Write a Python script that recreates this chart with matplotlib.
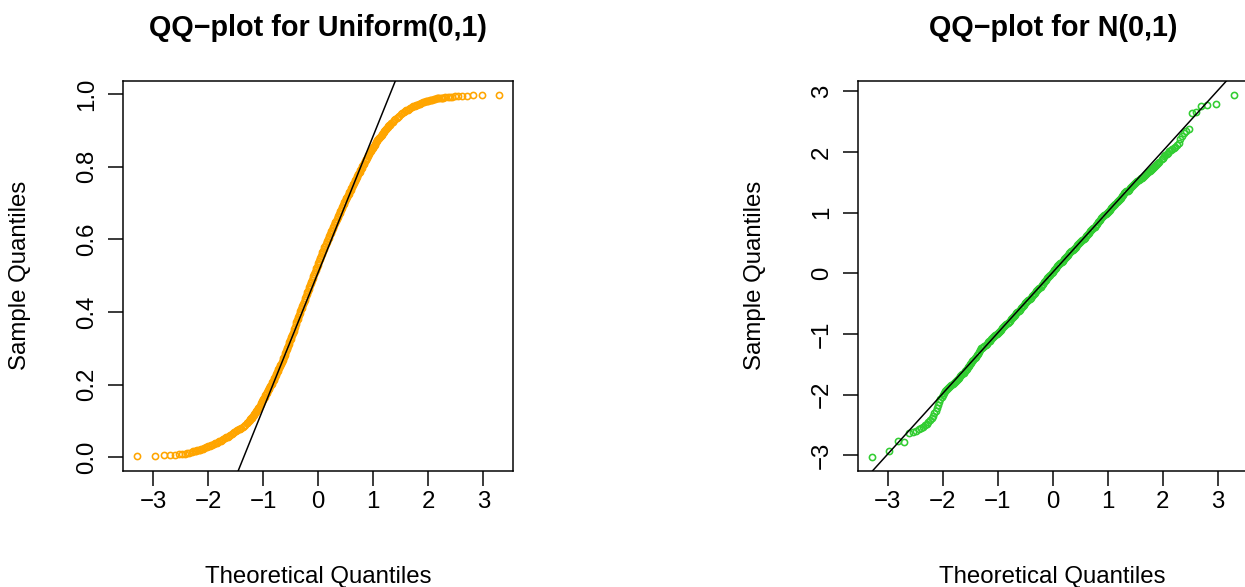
import matplotlib
matplotlib.use("Agg")
import matplotlib.pyplot as plt

plt.rcParams['font.family'] = ['Liberation Sans', 'DejaVu Sans']

# ---------------- data ----------------
unif_theoretical = [
    -3.29, -2.97, -2.81, -2.70, -2.61, -2.54, -2.48, -2.43, -2.39, -2.35,
    -2.30, -2.25, -2.20, -2.15, -2.10, -2.05, -2.00, -1.95, -1.90, -1.85,
    -1.80, -1.75, -1.70, -1.65, -1.60, -1.55, -1.50, -1.45, -1.40, -1.35, -1.30,
    -1.275, -1.25, -1.225, -1.20, -1.175, -1.15, -1.125, -1.10, -1.075, -1.05,
    -1.025, -1.00, -0.975, -0.95, -0.925, -0.90, -0.875, -0.85, -0.825, -0.80,
    -0.775, -0.75, -0.725, -0.70, -0.675, -0.65, -0.625, -0.60, -0.575, -0.55,
    -0.525, -0.50, -0.475, -0.45, -0.425, -0.40, -0.375, -0.35, -0.325, -0.30,
    -0.275, -0.25, -0.225, -0.20, -0.175, -0.15, -0.125, -0.10, -0.075, -0.05,
    -0.025, 0.00, 0.025, 0.05, 0.075, 0.10, 0.125, 0.15, 0.175, 0.20,
    0.225, 0.25, 0.275, 0.30, 0.325, 0.35, 0.375, 0.40, 0.425, 0.45,
    0.475, 0.50, 0.525, 0.55, 0.575, 0.60, 0.625, 0.65, 0.675, 0.70,
    0.725, 0.75, 0.775, 0.80, 0.825, 0.85, 0.875, 0.90, 0.925, 0.95,
    0.975, 1.00, 1.025, 1.05, 1.075, 1.10, 1.125, 1.15, 1.175, 1.20,
    1.225, 1.25, 1.275, 1.30,
    1.35, 1.40, 1.45, 1.50, 1.55, 1.60, 1.65, 1.70, 1.75, 1.80,
    1.85, 1.90, 1.95, 2.00, 2.05, 2.10, 2.15, 2.20, 2.25, 2.30,
    2.35, 2.39, 2.43, 2.48, 2.54, 2.61, 2.70, 2.81, 2.97, 3.29,
]
unif_sample = [
    0.003, 0.004, 0.005, 0.006, 0.007, 0.008, 0.009, 0.010, 0.011, 0.012,
    0.015, 0.017, 0.019, 0.021, 0.024, 0.027, 0.030, 0.033, 0.036, 0.040,
    0.044, 0.048, 0.053, 0.056, 0.061, 0.067, 0.072, 0.077, 0.081, 0.087, 0.093,
    0.097, 0.102, 0.107, 0.112, 0.117, 0.122, 0.127, 0.133, 0.139, 0.146,
    0.154, 0.161, 0.167, 0.174, 0.181, 0.188, 0.195, 0.203, 0.210, 0.218,
    0.226, 0.234, 0.242, 0.250, 0.258, 0.267, 0.277, 0.287, 0.297, 0.307,
    0.317, 0.327, 0.337, 0.349, 0.360, 0.372, 0.382, 0.392, 0.402, 0.412,
    0.423, 0.433, 0.443, 0.454, 0.464, 0.474, 0.484, 0.494, 0.505, 0.515,
    0.525, 0.535, 0.545, 0.554, 0.564, 0.573, 0.583, 0.592, 0.600, 0.609,
    0.618, 0.627, 0.635, 0.644, 0.652, 0.661, 0.669, 0.677, 0.686, 0.694,
    0.702, 0.710, 0.718, 0.726, 0.733, 0.741, 0.749, 0.756, 0.764, 0.771,
    0.779, 0.786, 0.794, 0.801, 0.808, 0.815, 0.822, 0.829, 0.836, 0.843,
    0.849, 0.855, 0.861, 0.867, 0.873, 0.878, 0.883, 0.888, 0.894, 0.898,
    0.903, 0.907, 0.912, 0.916,
    0.924, 0.931, 0.938, 0.944, 0.950, 0.955, 0.960, 0.964, 0.968, 0.971,
    0.974, 0.977, 0.980, 0.982, 0.984, 0.986, 0.988, 0.989, 0.990, 0.991,
    0.992, 0.9925, 0.993, 0.9935, 0.994, 0.9945, 0.996, 0.997, 0.998, 0.998,
]
# further readings in the dense part of the band
unif_theoretical_dense = [
    -2.275, -2.225, -2.175, -2.125, -2.075, -2.025, -1.975, -1.925, -1.875, -1.825,
    -1.775, -1.725, -1.675, -1.625, -1.575, -1.525, -1.475, -1.425, -1.375, -1.325,
    -1.2875, -1.2625, -1.2375, -1.2125, -1.1875, -1.1625, -1.1375, -1.1125, -1.0875, -1.0625,
    -1.0375, -1.0125, -0.9875, -0.9625, -0.9375, -0.9125, -0.8875, -0.8625, -0.8375, -0.8125,
    -0.7875, -0.7625, -0.7375, -0.7125, -0.6875, -0.6625, -0.6375, -0.6125, -0.5875, -0.5625,
    -0.5375, -0.5125, -0.4875, -0.4625, -0.4375, -0.4125, -0.3875, -0.3625, -0.3375, -0.3125,
    -0.2875, -0.2625, -0.2375, -0.2125, -0.1875, -0.1625, -0.1375, -0.1125, -0.0875, -0.0625,
    -0.0375, -0.0125, 0.0125, 0.0375, 0.0625, 0.0875, 0.1125, 0.1375, 0.1625, 0.1875,
    0.2125, 0.2375, 0.2625, 0.2875, 0.3125, 0.3375, 0.3625, 0.3875, 0.4125, 0.4375,
    0.4625, 0.4875, 0.5125, 0.5375, 0.5625, 0.5875, 0.6125, 0.6375, 0.6625, 0.6875,
    0.7125, 0.7375, 0.7625, 0.7875, 0.8125, 0.8375, 0.8625, 0.8875, 0.9125, 0.9375,
    0.9625, 0.9875, 1.0125, 1.0375, 1.0625, 1.0875, 1.1125, 1.1375, 1.1625, 1.1875,
    1.2125, 1.2375, 1.2625, 1.2875,
    1.325, 1.375, 1.425, 1.475, 1.525, 1.575, 1.625, 1.675, 1.725, 1.775,
    1.825, 1.875, 1.925, 1.975, 2.025, 2.075, 2.125, 2.175, 2.225, 2.275,
]
unif_sample_dense = [
    0.016, 0.018, 0.020, 0.0225, 0.0255, 0.0285, 0.0315, 0.0345, 0.038, 0.042,
    0.046, 0.0505, 0.0545, 0.0585, 0.064, 0.0695, 0.0745, 0.079, 0.084, 0.090,
    0.095, 0.0995, 0.1045, 0.1095, 0.1145, 0.1195, 0.1245, 0.130, 0.136, 0.1425,
    0.150, 0.1575, 0.164, 0.1705, 0.1775, 0.1845, 0.1915, 0.199, 0.2065, 0.214,
    0.222, 0.230, 0.238, 0.246, 0.254, 0.2625, 0.272, 0.282, 0.292, 0.302,
    0.312, 0.322, 0.332, 0.343, 0.3545, 0.366, 0.377, 0.387, 0.397, 0.407,
    0.4175, 0.428, 0.438, 0.4485, 0.459, 0.469, 0.479, 0.489, 0.4995, 0.510,
    0.520, 0.530, 0.540, 0.5495, 0.559, 0.5685, 0.578, 0.5875, 0.596, 0.6045,
    0.6135, 0.6225, 0.631, 0.6395, 0.648, 0.6565, 0.665, 0.673, 0.6815, 0.690,
    0.698, 0.706, 0.714, 0.722, 0.7295, 0.737, 0.745, 0.7525, 0.760, 0.7675,
    0.775, 0.7825, 0.790, 0.7975, 0.8045, 0.8115, 0.8185, 0.8255, 0.8325, 0.8395,
    0.846, 0.852, 0.858, 0.864, 0.870, 0.8755, 0.8805, 0.8855, 0.891, 0.896,
    0.9005, 0.905, 0.9095, 0.914,
    0.920, 0.9275, 0.9345, 0.941, 0.947, 0.9525, 0.9575, 0.962, 0.966, 0.9695,
    0.9725, 0.9755, 0.9785, 0.981, 0.983, 0.985, 0.987, 0.9885, 0.9895, 0.9905,
]
unif_line_intercept = 0.510
unif_line_slope = 0.3758

norm_theoretical = [
    -3.29, -2.97, -2.81, -2.70, -2.61, -2.54, -2.48, -2.43, -2.39, -2.35,
    -2.32, -2.29, -2.26, -2.23, -2.20, -2.17, -2.15, -2.12, -2.10, -2.08,
    -2.06, -2.04, -2.02, -2.00, -1.98, -1.96,
    -1.94, -1.90, -1.86, -1.82, -1.78, -1.74, -1.70, -1.66, -1.62, -1.58,
    -1.54, -1.50, -1.46, -1.42, -1.38, -1.34, -1.30, -1.26, -1.22, -1.18,
    -1.14, -1.10, -1.06, -1.02, -0.98, -0.94, -0.90, -0.86, -0.82, -0.78,
    -0.74, -0.70, -0.66, -0.62, -0.58, -0.54, -0.50, -0.46, -0.42, -0.38,
    -0.34, -0.30, -0.26, -0.22, -0.18, -0.14, -0.10, -0.06, -0.02, 0.02,
    0.06, 0.10, 0.14, 0.18, 0.22, 0.26, 0.30, 0.34, 0.38, 0.42,
    0.46, 0.50, 0.54, 0.58, 0.62, 0.66, 0.70, 0.74, 0.78, 0.82,
    0.86, 0.90, 0.94, 0.98, 1.02, 1.06, 1.10, 1.14, 1.18, 1.22,
    1.26, 1.30, 1.34, 1.38, 1.42, 1.46, 1.50, 1.54, 1.58, 1.62,
    1.66, 1.70, 1.74, 1.78, 1.82, 1.86, 1.90, 1.94,
    1.98, 2.00, 2.01, 2.03, 2.05, 2.08, 2.10, 2.12, 2.15, 2.17,
    2.20, 2.23, 2.26, 2.29, 2.32, 2.35, 2.39, 2.43, 2.48, 2.54,
    2.61, 2.70, 2.81, 2.97, 3.29,
]
norm_sample = [
    -3.03, -2.93, -2.77, -2.78, -2.63, -2.615, -2.60, -2.57, -2.55, -2.53,
    -2.51, -2.48, -2.45, -2.42, -2.39, -2.35, -2.31, -2.27, -2.22, -2.17,
    -2.12, -2.08, -2.04, -2.00, -1.97, -1.95,
    -1.93, -1.89, -1.86, -1.83, -1.80, -1.76, -1.72, -1.68, -1.64, -1.60,
    -1.55, -1.50, -1.45, -1.40, -1.35, -1.30, -1.24, -1.21, -1.18, -1.14,
    -1.11, -1.07, -1.04, -1.00, -0.97, -0.93, -0.89, -0.86, -0.82, -0.78,
    -0.74, -0.70, -0.66, -0.62, -0.58, -0.54, -0.49, -0.46, -0.42, -0.38,
    -0.34, -0.30, -0.26, -0.22, -0.17, -0.13, -0.08, -0.04, 0.00, 0.05,
    0.09, 0.14, 0.17, 0.21, 0.25, 0.29, 0.33, 0.36, 0.40, 0.44,
    0.48, 0.52, 0.55, 0.59, 0.63, 0.67, 0.71, 0.75, 0.79, 0.84,
    0.88, 0.93, 0.96, 1.00, 1.03, 1.07, 1.11, 1.15, 1.19, 1.23,
    1.27, 1.32, 1.35, 1.38, 1.42, 1.45, 1.49, 1.52, 1.55, 1.58,
    1.61, 1.64, 1.67, 1.70, 1.74, 1.77, 1.81, 1.84,
    1.88, 1.90, 1.91, 1.93, 1.95, 1.97, 1.99, 2.01, 2.03, 2.05,
    2.07, 2.09, 2.11, 2.15, 2.22, 2.27, 2.31, 2.35, 2.38, 2.65,
    2.66, 2.76, 2.78, 2.79, 2.94,
]
norm_theoretical_dense = [
    -1.92, -1.88, -1.84, -1.80, -1.76, -1.72, -1.68, -1.64, -1.60, -1.56,
    -1.52, -1.48, -1.44, -1.40, -1.36, -1.32, -1.28, -1.24, -1.20, -1.16,
    -1.12, -1.08, -1.04, -1.00, -0.96, -0.92, -0.88, -0.84, -0.80, -0.76,
    -0.72, -0.68, -0.64, -0.60, -0.56, -0.52, -0.48, -0.44, -0.40, -0.36,
    -0.32, -0.28, -0.24, -0.20, -0.16, -0.12, -0.08, -0.04, 0.00, 0.04,
    0.08, 0.12, 0.16, 0.20, 0.24, 0.28, 0.32, 0.36, 0.40, 0.44,
    0.48, 0.52, 0.56, 0.60, 0.64, 0.68, 0.72, 0.76, 0.80, 0.84,
    0.88, 0.92, 0.96, 1.00, 1.04, 1.08, 1.12, 1.16, 1.20, 1.24,
    1.28, 1.32, 1.36, 1.40, 1.44, 1.48, 1.52, 1.56, 1.60, 1.64,
    1.68, 1.72, 1.76, 1.80, 1.84, 1.88, 1.92,
]
norm_sample_dense = [
    -1.91, -1.875, -1.845, -1.815, -1.78, -1.74, -1.70, -1.66, -1.62, -1.575,
    -1.525, -1.475, -1.425, -1.375, -1.325, -1.27, -1.225, -1.195, -1.16, -1.125,
    -1.09, -1.055, -1.02, -0.985, -0.95, -0.91, -0.875, -0.84, -0.80, -0.76,
    -0.72, -0.68, -0.64, -0.60, -0.56, -0.515, -0.475, -0.44, -0.40, -0.36,
    -0.32, -0.28, -0.24, -0.195, -0.15, -0.105, -0.06, -0.02, 0.025, 0.07,
    0.115, 0.155, 0.19, 0.23, 0.27, 0.31, 0.345, 0.38, 0.42, 0.46,
    0.50, 0.535, 0.57, 0.61, 0.65, 0.69, 0.73, 0.77, 0.815, 0.86,
    0.905, 0.945, 0.98, 1.015, 1.05, 1.09, 1.13, 1.17, 1.21, 1.25,
    1.295, 1.335, 1.365, 1.40, 1.435, 1.47, 1.505, 1.535, 1.565, 1.595,
    1.625, 1.655, 1.685, 1.72, 1.755, 1.79, 1.825,
]
norm_line_intercept = 0.016
norm_line_slope = 1.0

x_ticks = [-3, -2, -1, 0, 1, 2, 3]
x_tick_labels = ["\u22123", "\u22122", "\u22121", "0", "1", "2", "3"]
unif_y_ticks = [0.0, 0.2, 0.4, 0.6, 0.8, 1.0]
unif_y_tick_labels = ["0.0", "0.2", "0.4", "0.6", "0.8", "1.0"]
norm_y_ticks = [-3, -2, -1, 0, 1, 2, 3]
norm_y_tick_labels = ["\u22123", "\u22122", "\u22121", "0", "1", "2", "3"]

titles = ["QQ\u2212plot for Uniform(0,1)", "QQ\u2212plot for N(0,1)"]
x_label = "Theoretical Quantiles"
y_label = "Sample Quantiles"
colors = ["#FFA500", "#32CD32"]

# ---------------- figure ----------------
W, H, DPI = 1245, 587, 144
fig = plt.figure(figsize=(W / DPI, H / DPI), dpi=DPI)


def px_axes(left, top, right, bottom):
    return fig.add_axes([left / W, 1 - bottom / H, (right - left) / W, (bottom - top) / H])


panels = [
    dict(box=(123.3, 80.7, 513.3, 470.7),
         x=unif_theoretical + unif_theoretical_dense, y=unif_sample + unif_sample_dense,
         a=unif_line_intercept, b=unif_line_slope, yt=unif_y_ticks, ytl=unif_y_tick_labels,
         ylim=(-0.037, 1.037)),
    dict(box=(857.7, 80.7, 1247.7, 470.7),
         x=norm_theoretical + norm_theoretical_dense, y=norm_sample + norm_sample_dense,
         a=norm_line_intercept, b=norm_line_slope, yt=norm_y_ticks, ytl=norm_y_tick_labels,
         ylim=(-3.257, 3.178)),
]

for i, p in enumerate(panels):
    l, t, r, b = p["box"]
    ax = px_axes(l, t, r, b)
    ax.plot(p["x"], p["y"], linestyle="none", marker="o", markersize=3.1,
            markerfacecolor="none", markeredgecolor=colors[i], markeredgewidth=0.8)
    ax.axline((0, p["a"]), slope=p["b"], color="black", linewidth=0.75)
    ax.set_xlim(-3.545, 3.545)
    ax.set_ylim(*p["ylim"])
    ax.set_xticks(x_ticks)
    ax.set_xticklabels(x_tick_labels)
    ax.set_yticks(p["yt"])
    ax.set_yticklabels(p["ytl"], rotation=90, va="center")
    ax.tick_params(axis="both", direction="out", length=7.5, width=0.75,
                   labelsize=12, color="black")
    ax.tick_params(axis="x", pad=2.5)
    ax.tick_params(axis="y", pad=5)
    for s in ax.spines.values():
        s.set_linewidth(0.75)
    cx = (l + r) / 2
    cy = (t + b) / 2
    fig.text(cx / W, 1 - 28 / H, titles[i], ha="center", va="center",
             fontsize=14.4, fontweight="bold")
    fig.text(cx / W, 1 - 577 / H, x_label, ha="center", va="center", fontsize=12)
    fig.text((l - 103) / W, 1 - cy / H, y_label, ha="center", va="center",
             rotation=90, fontsize=12)

fig.savefig("out.png", dpi=DPI)
